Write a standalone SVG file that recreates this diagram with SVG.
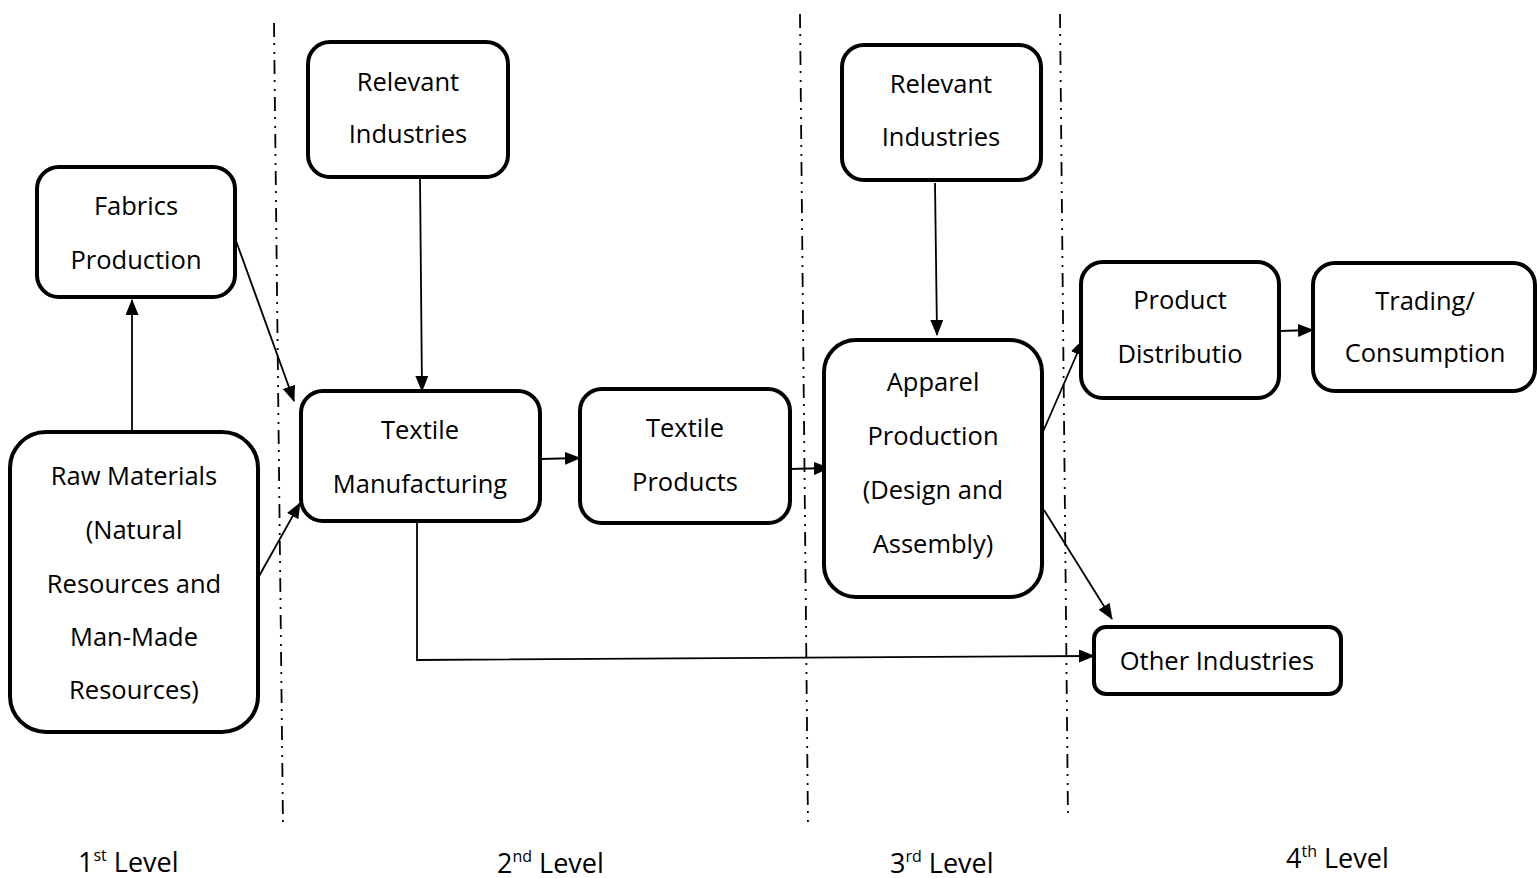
<svg xmlns="http://www.w3.org/2000/svg" width="1537" height="878" viewBox="0 0 1537 878">
  <style>
    .box { fill: #fff; stroke: #000; stroke-width: 4; }
    .lbl { font-family: "Open Sans", "Liberation Sans", sans-serif; font-size: 25.5px; fill: #000; text-anchor: middle; }
    .lvl { font-family: "Open Sans", "Liberation Sans", sans-serif; font-size: 27px; fill: #000; }
    .sup { font-size: 16px; }
    .conn { fill: none; stroke: #000; stroke-width: 1.8; }
    .divider { fill: none; stroke: #000; stroke-width: 1.8; stroke-dasharray: 14 6 2 7 2 6; }
  </style>
  <defs>
    <marker id="arrow" markerUnits="userSpaceOnUse" markerWidth="16" markerHeight="13" refX="15" refY="6.5" orient="auto">
      <path d="M0,0 L16,6.5 L0,13 Z" fill="#000"/>
    </marker>
  </defs>
  <rect width="1537" height="878" fill="#fff"/>

  <!-- level dividers -->
  <g id="dividers">
    <line class="divider" x1="274" y1="23" x2="283" y2="826"/>
    <line class="divider" x1="800" y1="14" x2="808" y2="826"/>
    <line class="divider" x1="1060" y1="14" x2="1068" y2="820"/>
  </g>

  <!-- connectors -->
  <g id="connectors">
    <line class="conn" x1="132" y1="432" x2="132" y2="300" marker-end="url(#arrow)"/>
    <line class="conn" x1="235" y1="238" x2="294" y2="401" marker-end="url(#arrow)"/>
    <line class="conn" x1="258" y1="578" x2="300" y2="503" marker-end="url(#arrow)"/>
    <line class="conn" x1="420" y1="177" x2="422" y2="391" marker-end="url(#arrow)"/>
    <line class="conn" x1="540" y1="459" x2="580" y2="458" marker-end="url(#arrow)"/>
    <line class="conn" x1="790" y1="469" x2="829" y2="468" marker-end="url(#arrow)"/>
    <line class="conn" x1="935" y1="183" x2="937" y2="335" marker-end="url(#arrow)"/>
    <line class="conn" x1="1042" y1="434" x2="1083" y2="340" marker-end="url(#arrow)"/>
    <line class="conn" x1="1044" y1="510" x2="1112" y2="619" marker-end="url(#arrow)"/>
    <line class="conn" x1="1279" y1="331" x2="1313" y2="330" marker-end="url(#arrow)"/>
    <polyline class="conn" points="417,521 417,660 1094,656" marker-end="url(#arrow)"/>
  </g>

  <g id="raw-materials">
    <rect class="box" x="10" y="432" width="248" height="300" rx="36"/>
    <text class="lbl" x="134" y="485">Raw Materials</text>
    <text class="lbl" x="134" y="539">(Natural</text>
    <text class="lbl" x="134" y="593">Resources and</text>
    <text class="lbl" x="134" y="646">Man-Made</text>
    <text class="lbl" x="134" y="699">Resources)</text>
  </g>

  <g id="fabrics-production">
    <rect class="box" x="37" y="167" width="198" height="130" rx="22"/>
    <text class="lbl" x="136" y="215">Fabrics</text>
    <text class="lbl" x="136" y="269">Production</text>
  </g>

  <g id="relevant-industries-1">
    <rect class="box" x="308" y="42" width="200" height="135" rx="22"/>
    <text class="lbl" x="408" y="91">Relevant</text>
    <text class="lbl" x="408" y="143">Industries</text>
  </g>

  <g id="textile-manufacturing">
    <rect class="box" x="301" y="391" width="239" height="130" rx="22"/>
    <text class="lbl" x="420" y="439">Textile</text>
    <text class="lbl" x="420" y="493">Manufacturing</text>
  </g>

  <g id="textile-products">
    <rect class="box" x="580" y="389" width="210" height="134" rx="22"/>
    <text class="lbl" x="685" y="437">Textile</text>
    <text class="lbl" x="685" y="491">Products</text>
  </g>

  <g id="relevant-industries-2">
    <rect class="box" x="842" y="45" width="199" height="135" rx="22"/>
    <text class="lbl" x="941" y="93">Relevant</text>
    <text class="lbl" x="941" y="146">Industries</text>
  </g>

  <g id="apparel-production">
    <rect class="box" x="824" y="340" width="218" height="257" rx="32"/>
    <text class="lbl" x="933" y="391">Apparel</text>
    <text class="lbl" x="933" y="445">Production</text>
    <text class="lbl" x="933" y="499">(Design and</text>
    <text class="lbl" x="933" y="553">Assembly)</text>
  </g>

  <g id="product-distribution">
    <rect class="box" x="1081" y="262" width="198" height="136" rx="22"/>
    <text class="lbl" x="1180" y="309">Product</text>
    <text class="lbl" x="1180" y="363">Distributio</text>
  </g>

  <g id="trading-consumption">
    <rect class="box" x="1313" y="263" width="222" height="128" rx="22"/>
    <text class="lbl" x="1425" y="310">Trading/</text>
    <text class="lbl" x="1425" y="362">Consumption</text>
  </g>

  <g id="other-industries">
    <rect class="box" x="1094" y="627" width="247" height="67" rx="12"/>
    <text class="lbl" x="1217" y="670">Other Industries</text>
  </g>

  <!-- level captions -->
  <g id="level-captions">
    <text class="lvl" x="78" y="872">1<tspan class="sup" dy="-11">st</tspan><tspan dy="11"> Level</tspan></text>
    <text class="lvl" x="497" y="873">2<tspan class="sup" dy="-11">nd</tspan><tspan dy="11"> Level</tspan></text>
    <text class="lvl" x="890" y="873">3<tspan class="sup" dy="-11">rd</tspan><tspan dy="11"> Level</tspan></text>
    <text class="lvl" x="1286" y="868">4<tspan class="sup" dy="-11">th</tspan><tspan dy="11"> Level</tspan></text>
  </g>
</svg>
